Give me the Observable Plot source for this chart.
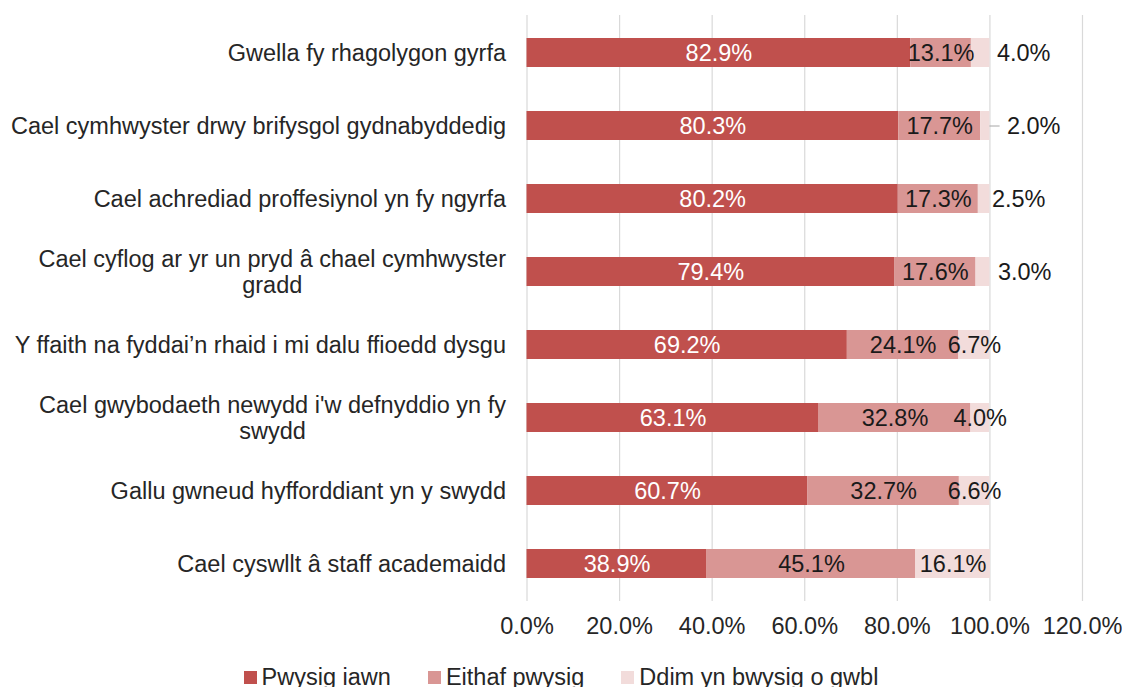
<!DOCTYPE html>
<html>
<head>
<meta charset="utf-8">
<script src="https://cdn.jsdelivr.net/npm/d3@7"></script>
<script src="https://cdn.jsdelivr.net/npm/@observablehq/plot@0.6"></script>
<style>
  html, body { margin: 0; padding: 0; background: #fff; }
  body { position: relative; width: 1122px; height: 687px; overflow: hidden; font-family: "Liberation Sans", Arial, sans-serif; }
  #chart { position: absolute; left: 0; top: 0; }
  #legend { position: absolute; left: 0; top: 664px; width: 1122px; display: flex; justify-content: center; gap: 37px; font-size: 23.5px; color: #262626; }
  .item { display: flex; align-items: center; height: 26px; }
  .sw { width: 13px; height: 13px; margin-right: 5px; }
</style>
</head>
<body>
<div id="chart"></div>
<div id="legend"></div>
<script>
const categories = [
  "Gwella fy rhagolygon gyrfa",
  "Cael cymhwyster drwy brifysgol gydnabyddedig",
  "Cael achrediad proffesiynol yn fy ngyrfa",
  "Cael cyflog ar yr un pryd â chael cymhwyster\ngradd",
  "Y ffaith na fyddai’n rhaid i mi dalu ffioedd dysgu",
  "Cael gwybodaeth newydd i'w defnyddio yn fy\nswydd",
  "Gallu gwneud hyfforddiant yn y swydd",
  "Cael cyswllt â staff academaidd"
];
const seriesNames = ["Pwysig iawn", "Eithaf pwysig", "Ddim yn bwysig o gwbl"];
const pwysigIawn   = [82.9, 80.3, 80.2, 79.4, 69.2, 63.1, 60.7, 38.9];
const eithafPwysig = [13.1, 17.7, 17.3, 17.6, 24.1, 32.8, 32.7, 45.1];
const ddimPwysig   = [4.0, 2.0, 2.5, 3.0, 6.7, 4.0, 6.6, 16.1];
const xTicks = [0, 20, 40, 60, 80, 100, 120];

// styling (not data)
const colors = ["#C0504D", "#D99694", "#F2DCDB"];
const outsideRows = [0, 1, 2, 3];          // third-series labels drawn outside the bar
const outsideGap = [7, 17, 2, 8];          // px gap after bar end for those labels
const leaderRows = [1];                    // rows with a leader line
const FS = 23.5;
const FONT = "Liberation Sans, Arial, sans-serif";

const seriesValues = [pwysigIawn, eithafPwysig, ddimPwysig];
const data = [];
categories.forEach((c, i) => {
  seriesNames.forEach((s, k) => {
    data.push({cat: c, series: s, value: seriesValues[k][i], row: i, k});
  });
});
const fmt = v => v.toFixed(1) + "%";
const totals = categories.map((c, i) => pwysigIawn[i] + eithafPwysig[i] + ddimPwysig[i]);

// measure text for centred multi-line category labels
const ctx = document.createElement("canvas").getContext("2d");
ctx.font = `${FS}px "Liberation Sans"`;
const labelPad = 21;

const multiLabelMarks = categories.filter(c => c.includes("\n")).map(c => {
  const w = Math.max(...c.split("\n").map(l => ctx.measureText(l).width));
  return Plot.text([c], {
    x: () => 0, y: d => d, text: d => d,
    textAnchor: "middle", lineAnchor: "middle", lineHeight: 1.1,
    dx: -(labelPad + w / 2), fontSize: FS, fill: "#262626"
  });
});

const outsideMarks = outsideRows.map((r, j) => Plot.text([r], {
  x: r2 => totals[r2], y: r2 => categories[r2], text: r2 => fmt(ddimPwysig[r2]),
  textAnchor: "start", dx: outsideGap[j], fontSize: FS, fill: "#1a1a1a"
}));

const leaderMarks = leaderRows.map(r => Plot.ruleY([r], {
  y: r2 => categories[r2], x1: r2 => totals[r2], x2: r2 => totals[r2] + 2.2,
  stroke: "#a6a6a6", strokeWidth: 1
}));

const insideData = data.filter(d => !(d.k === 2 && outsideRows.includes(d.row)));

const chart = Plot.plot({
  width: 1122,
  height: 645,
  marginLeft: 526.5,
  marginRight: 40,
  marginTop: 15,
  marginBottom: 44,
  style: {fontFamily: FONT, fontSize: FS + "px", color: "#262626", background: "#fff", overflow: "visible"},
  x: {domain: [0, 120], axis: null, label: null},
  y: {domain: categories, range: [15, 601], paddingInner: 0.6, paddingOuter: 0.3, axis: null, label: null},
  color: {domain: seriesNames, range: colors},
  marks: [
    Plot.ruleX(xTicks, {stroke: "#d9d9d9", strokeWidth: 1.2}),
    Plot.barX(data, Plot.stackX({y: "cat", x: "value", fill: "series", order: null})),
    Plot.text(insideData, Plot.stackX({
      y: "cat", x: "value", order: null,
      text: d => fmt(d.value),
      fill: d => d.k === 0 ? "#ffffff" : "#1a1a1a",
      fontSize: FS
    })),
    ...outsideMarks,
    ...leaderMarks,
    Plot.axisX({ticks: xTicks, tickFormat: d => d.toFixed(1) + "%", tickSize: 0, tickPadding: 16, fontSize: FS, color: "#262626", label: null}),
    Plot.axisY({tickSize: 0, tickPadding: labelPad, fontSize: FS, color: "#262626", label: null,
      tickFormat: d => d.includes("\n") ? "" : d}),
    ...multiLabelMarks
  ]
});
document.getElementById("chart").appendChild(chart);

const legend = document.getElementById("legend");
seriesNames.forEach((s, k) => {
  const it = document.createElement("div");
  it.className = "item";
  const sw = document.createElement("span");
  sw.className = "sw";
  sw.style.background = colors[k];
  const tx = document.createElement("span");
  tx.textContent = s;
  it.appendChild(sw); it.appendChild(tx);
  legend.appendChild(it);
});
</script>
</body>
</html>
